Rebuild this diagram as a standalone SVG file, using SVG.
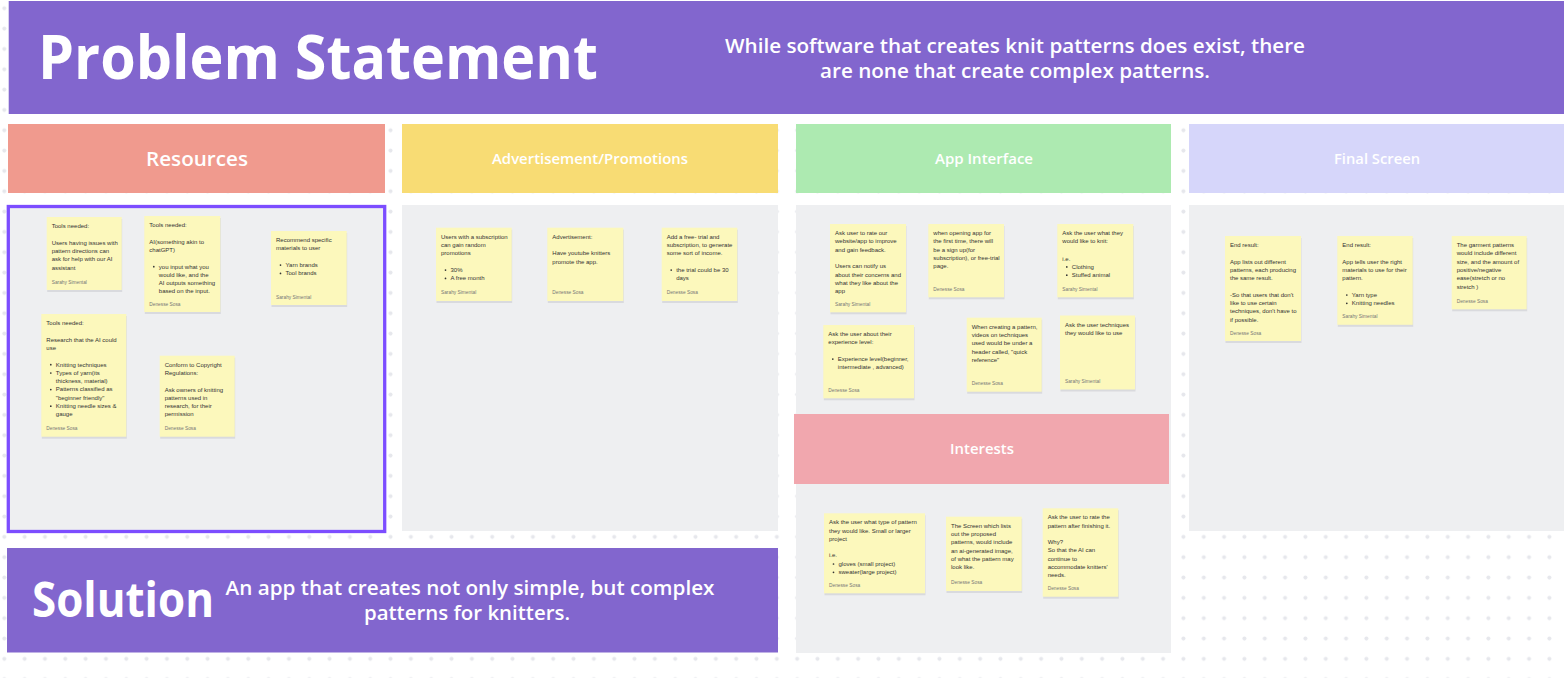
<svg xmlns="http://www.w3.org/2000/svg" width="1566" height="678" viewBox="0 0 1566 678">
<style>
.n{fill:#FCF8BC}
.sh{fill:#d9dade}
.t{font-family:"Liberation Sans",Arial,sans-serif;font-size:6px;fill:#333}
.a{font-family:"Liberation Sans",Arial,sans-serif;font-size:4.8px;fill:#777}
.b{fill:#333}
.hd{font-family:"Open Sans","DejaVu Sans",sans-serif;fill:#fff;font-weight:600;text-anchor:middle}
.big{font-family:"Open Sans","DejaVu Sans",sans-serif;fill:#fff;font-weight:700}
.sub{font-family:"Open Sans","DejaVu Sans",sans-serif;fill:#fff;font-weight:600}
.panel{fill:#EEEFF1}
</style>
<defs>
<pattern id="dots" x="0" y="0" width="20.33" height="20.33" patternUnits="userSpaceOnUse">
<circle cx="4.3" cy="8.3" r="2" fill="#e6e7ec"/>
</pattern>
</defs>
<rect width="1566" height="678" fill="#fff"/>
<rect width="1566" height="678" fill="url(#dots)"/>

<g id="problem-statement">
<rect x="8.7" y="1" width="1555.3" height="113" fill="#8266CE"/>
<text class="big" x="38" y="79" font-size="60" textLength="560" lengthAdjust="spacingAndGlyphs">Problem Statement</text>
<text class="sub" font-size="19" text-anchor="middle"><tspan x="1015" y="53" textLength="580" lengthAdjust="spacingAndGlyphs">While software that creates knit patterns does exist, there</tspan><tspan x="1015" y="78" textLength="390" lengthAdjust="spacingAndGlyphs">are none that create complex patterns.</tspan></text>
</g>

<g id="resources">
<rect x="8" y="124" width="377" height="69" fill="#F09A8E"/>
<text class="hd" x="197" y="166" font-size="19" font-weight="700" textLength="102" lengthAdjust="spacingAndGlyphs">Resources</text>
<rect class="panel" x="8.3" y="206.5" width="376.4" height="325" stroke="#7C4DFF" stroke-width="3.3"/>
</g>

<g id="advertisement">
<rect x="402" y="124" width="376" height="69" fill="#F8DC74"/>
<text class="hd" x="590" y="164" font-size="14" textLength="196" lengthAdjust="spacingAndGlyphs">Advertisement/Promotions</text>
<rect class="panel" x="402" y="205" width="376" height="326"/>
</g>

<g id="app-interface">
<rect x="796" y="124" width="375" height="69" fill="#ADEAB1"/>
<text class="hd" x="984" y="164" font-size="14" textLength="98" lengthAdjust="spacingAndGlyphs">App Interface</text>
<rect class="panel" x="796" y="205" width="375" height="448"/>
</g>

<g id="interests">
<rect x="794" y="414" width="375" height="70" fill="#F1A7AE"/>
<text class="hd" x="982" y="454" font-size="14" textLength="64" lengthAdjust="spacingAndGlyphs">Interests</text>
</g>

<g id="final-screen">
<rect x="1189" y="124" width="375" height="69" fill="#D6D6FA"/>
<text class="hd" x="1377" y="164" font-size="14" textLength="86" lengthAdjust="spacingAndGlyphs">Final Screen</text>
<rect class="panel" x="1189" y="205" width="375" height="326"/>
</g>

<g id="solution">
<rect x="7" y="548" width="771" height="104.5" fill="#8266CE"/>
<text class="big" x="32" y="617" font-size="48" textLength="182" lengthAdjust="spacingAndGlyphs">Solution</text>
<text class="sub" font-size="19" text-anchor="middle"><tspan x="470" y="595" textLength="489" lengthAdjust="spacingAndGlyphs">An app that creates not only simple, but complex</tspan><tspan x="467" y="620" textLength="206" lengthAdjust="spacingAndGlyphs">patterns for knitters.</tspan></text>
</g>

<!-- Resources notes -->
<g id="res-note-1" transform="translate(46.7,217)">
<rect class="sh" x="0.5" y="2" width="75" height="73"/>
<rect class="n" width="75" height="73"/>
<text class="t"><tspan x="5" y="11">Tools needed:</tspan><tspan x="5" y="27.6">Users having issues with</tspan><tspan x="5" y="35.9">pattern directions can</tspan><tspan x="5" y="44.2">ask for help with our AI</tspan><tspan x="5" y="52.5">assistant</tspan></text>
<text class="a" x="5" y="66.5">Sarahy Simental</text>
</g>

<g id="res-note-2" transform="translate(144.3,216)">
<rect class="sh" x="0.5" y="2" width="76" height="96"/>
<rect class="n" width="76" height="96"/>
<text class="t"><tspan x="5" y="11">Tools needed:</tspan><tspan x="5" y="27.6">AI(something akin to</tspan><tspan x="5" y="35.9">chatGPT)</tspan><tspan x="14.5" y="52.5">you input what you</tspan><tspan x="14.5" y="60.8">would like, and the</tspan><tspan x="14.5" y="69.1">AI outputs something</tspan><tspan x="14.5" y="77.4">based on the input.</tspan></text>
<circle class="b" cx="9.5" cy="50.7" r="0.85"/>
<text class="a" x="5" y="89.8">Denesse Sosa</text>
</g>

<g id="res-note-3" transform="translate(271,231)">
<rect class="sh" x="0.5" y="2" width="75.7" height="74"/>
<rect class="n" width="75.7" height="74"/>
<text class="t"><tspan x="5" y="11">Recommend specific</tspan><tspan x="5" y="19.3">materials to user</tspan><tspan x="14.5" y="35.9">Yarn brands</tspan><tspan x="14.5" y="44.2">Tool brands</tspan></text>
<circle class="b" cx="9.5" cy="34.1" r="0.85"/>
<circle class="b" cx="9.5" cy="42.4" r="0.85"/>
<text class="a" x="5" y="67.5">Sarahy Simental</text>
</g>

<g id="res-note-4" transform="translate(41.3,314)">
<rect class="sh" x="0.5" y="2" width="85" height="122.7"/>
<rect class="n" width="85" height="122.7"/>
<text class="t"><tspan x="5" y="11">Tools needed:</tspan><tspan x="5" y="27.6">Research that the AI could</tspan><tspan x="5" y="35.9">use</tspan><tspan x="14.5" y="52.5">Knitting techniques</tspan><tspan x="14.5" y="60.8">Types of yarn(its</tspan><tspan x="14.5" y="69.1">thickness, material)</tspan><tspan x="14.5" y="77.4">Patterns classified as</tspan><tspan x="14.5" y="85.7">"beginner friendly"</tspan><tspan x="14.5" y="94">Knitting needle sizes &amp;</tspan><tspan x="14.5" y="102.3">gauge</tspan></text>
<circle class="b" cx="9.5" cy="50.7" r="0.85"/>
<circle class="b" cx="9.5" cy="59" r="0.85"/>
<circle class="b" cx="9.5" cy="75.6" r="0.85"/>
<circle class="b" cx="9.5" cy="92.2" r="0.85"/>
<text class="a" x="5" y="116">Denesse Sosa</text>
</g>

<g id="res-note-5" transform="translate(159.7,355.7)">
<rect class="sh" x="0.5" y="2" width="75" height="81"/>
<rect class="n" width="75" height="81"/>
<text class="t"><tspan x="5" y="11">Conform to Copyright</tspan><tspan x="5" y="19.3">Regulations:</tspan><tspan x="5" y="35.9">Ask owners of knitting</tspan><tspan x="5" y="44.2">patterns used in</tspan><tspan x="5" y="52.5">research, for their</tspan><tspan x="5" y="60.8">permission</tspan></text>
<text class="a" x="5" y="74">Denesse Sosa</text>
</g>

<!-- Advertisement notes -->
<g id="ad-note-1" transform="translate(436,227.7)">
<rect class="sh" x="0.5" y="2" width="75.7" height="73.3"/>
<rect class="n" width="75.7" height="73.3"/>
<text class="t"><tspan x="5" y="11">Users with a subscription</tspan><tspan x="5" y="19.3">can gain random</tspan><tspan x="5" y="27.6">promotions</tspan><tspan x="14.5" y="44.2">30%</tspan><tspan x="14.5" y="52.5">A free month</tspan></text>
<circle class="b" cx="9.5" cy="42.4" r="0.85"/>
<circle class="b" cx="9.5" cy="50.7" r="0.85"/>
<text class="a" x="5" y="66.8">Sarahy Simental</text>
</g>

<g id="ad-note-2" transform="translate(547.3,227.7)">
<rect class="sh" x="0.5" y="2" width="76" height="73.3"/>
<rect class="n" width="76" height="73.3"/>
<text class="t"><tspan x="5" y="11">Advertisement:</tspan><tspan x="5" y="27.6">Have youtube knitters</tspan><tspan x="5" y="35.9">promote the app.</tspan></text>
<text class="a" x="5" y="66.8">Denesse Sosa</text>
</g>

<g id="ad-note-3" transform="translate(661.7,227.7)">
<rect class="sh" x="0.5" y="2" width="75.6" height="73.3"/>
<rect class="n" width="75.6" height="73.3"/>
<text class="t"><tspan x="5" y="11">Add a free- trial and</tspan><tspan x="5" y="19.3">subscription, to generate</tspan><tspan x="5" y="27.6">some sort of income.</tspan><tspan x="14.5" y="44.2">the trial could be 30</tspan><tspan x="14.5" y="52.5">days</tspan></text>
<circle class="b" cx="9.5" cy="42.4" r="0.85"/>
<text class="a" x="5" y="66.8">Denesse Sosa</text>
</g>

<!-- App Interface notes -->
<g id="app-note-1" transform="translate(830,224)">
<rect class="sh" x="0.5" y="2" width="76" height="88.3"/>
<rect class="n" width="76" height="88.3"/>
<text class="t"><tspan x="5" y="11">Ask user to rate our</tspan><tspan x="5" y="19.3">website/app to improve</tspan><tspan x="5" y="27.6">and gain feedback.</tspan><tspan x="5" y="44.2">Users can notify us</tspan><tspan x="5" y="52.5">about their concerns and</tspan><tspan x="5" y="60.8">what they like about the</tspan><tspan x="5" y="69.1">app</tspan></text>
<text class="a" x="5" y="81.8">Sarahy Simental</text>
</g>

<g id="app-note-2" transform="translate(928.3,224)">
<rect class="sh" x="0.5" y="2" width="75.7" height="73.3"/>
<rect class="n" width="75.7" height="73.3"/>
<text class="t"><tspan x="5" y="11">when opening app for</tspan><tspan x="5" y="19.3">the first time, there will</tspan><tspan x="5" y="27.6">be a sign up(for</tspan><tspan x="5" y="35.9">subscription), or free-trial</tspan><tspan x="5" y="44.2">page.</tspan></text>
<text class="a" x="5" y="66.8">Denesse Sosa</text>
</g>

<g id="app-note-3" transform="translate(1057.3,224)">
<rect class="sh" x="0.5" y="2" width="76" height="73.3"/>
<rect class="n" width="76" height="73.3"/>
<text class="t"><tspan x="5" y="11">Ask the user what they</tspan><tspan x="5" y="19.3">would like to knit:</tspan><tspan x="5" y="36.6">i.e.</tspan><tspan x="14.5" y="44.7">Clothing</tspan><tspan x="14.5" y="53">Stuffed animal</tspan></text>
<circle class="b" cx="9.5" cy="42.9" r="0.85"/>
<circle class="b" cx="9.5" cy="51.2" r="0.85"/>
<text class="a" x="5" y="66.8">Sarahy Simental</text>
</g>

<g id="app-note-4" transform="translate(823.3,325)">
<rect class="sh" x="0.5" y="2" width="90.7" height="73.3"/>
<rect class="n" width="90.7" height="73.3"/>
<text class="t"><tspan x="5" y="11">Ask the user about their</tspan><tspan x="5" y="19.3">experience level:</tspan><tspan x="14.5" y="35.9">Experience level(beginner,</tspan><tspan x="14.5" y="44.2">intermediate , advanced)</tspan></text>
<circle class="b" cx="9.5" cy="34.1" r="0.85"/>
<text class="a" x="5" y="66.8">Denesse Sosa</text>
</g>

<g id="app-note-5" transform="translate(966.7,317.7)">
<rect class="sh" x="0.5" y="2" width="75" height="74"/>
<rect class="n" width="75" height="74"/>
<text class="t"><tspan x="5" y="11">When creating a pattern,</tspan><tspan x="5" y="19.3">videos on techniques</tspan><tspan x="5" y="27.6">used would be under a</tspan><tspan x="5" y="35.9">header called, "quick</tspan><tspan x="5" y="44.2">reference"</tspan></text>
<text class="a" x="5" y="67.3">Denesse Sosa</text>
</g>

<g id="app-note-6" transform="translate(1060,315.5)">
<rect class="sh" x="0.5" y="2" width="75" height="74"/>
<rect class="n" width="75" height="74"/>
<text class="t"><tspan x="5" y="11">Ask the user techniques</tspan><tspan x="5" y="19.3">they would like to use</tspan></text>
<text class="a" x="5" y="67">Sarahy Simental</text>
</g>

<!-- Interests notes -->
<g id="int-note-1" transform="translate(824,513.3)">
<rect class="sh" x="0.5" y="2" width="101" height="80"/>
<rect class="n" width="101" height="80"/>
<text class="t"><tspan x="5" y="11">Ask the user what type of pattern</tspan><tspan x="5" y="19.3">they would like. Small or larger</tspan><tspan x="5" y="27.6">project</tspan><tspan x="5" y="44.2">i.e.</tspan><tspan x="14.5" y="52.5">gloves (small project)</tspan><tspan x="14.5" y="60.8">sweater(large project)</tspan></text>
<circle class="b" cx="9.5" cy="50.7" r="0.85"/>
<circle class="b" cx="9.5" cy="59" r="0.85"/>
<text class="a" x="5" y="73.5">Denesse Sosa</text>
</g>

<g id="int-note-2" transform="translate(946,516.7)">
<rect class="sh" x="0.5" y="2" width="75.7" height="74.3"/>
<rect class="n" width="75.7" height="74.3"/>
<text class="t"><tspan x="5" y="11">The Screen which lists</tspan><tspan x="5" y="19.3">out the proposed</tspan><tspan x="5" y="27.6">patterns, would include</tspan><tspan x="5" y="35.9">an ai-generated image,</tspan><tspan x="5" y="44.2">of what the pattern may</tspan><tspan x="5" y="52.5">look like.</tspan></text>
<text class="a" x="5" y="67.3">Denesse Sosa</text>
</g>

<g id="int-note-3" transform="translate(1042.7,508.3)">
<rect class="sh" x="0.5" y="2" width="75.6" height="88.4"/>
<rect class="n" width="75.6" height="88.4"/>
<text class="t"><tspan x="5" y="11">Ask the user to rate the</tspan><tspan x="5" y="19.3">pattern after finishing it.</tspan><tspan x="5" y="35.9">Why?</tspan><tspan x="5" y="44.2">So that the AI can</tspan><tspan x="5" y="52.5">continue to</tspan><tspan x="5" y="60.8">accommodate knitters'</tspan><tspan x="5" y="69.1">needs.</tspan></text>
<text class="a" x="5" y="81.7">Denesse Sosa</text>
</g>

<!-- Final Screen notes -->
<g id="final-note-1" transform="translate(1225,236)">
<rect class="sh" x="0.5" y="2" width="76" height="105"/>
<rect class="n" width="76" height="105"/>
<text class="t"><tspan x="5" y="11">End result:</tspan><tspan x="5" y="27.6">App lists out different</tspan><tspan x="5" y="35.9">patterns, each producing</tspan><tspan x="5" y="44.2">the same result.</tspan><tspan x="5" y="60.8">-So that users that don't</tspan><tspan x="5" y="69.1">like to use certain</tspan><tspan x="5" y="77.4">techniques, don't have to</tspan><tspan x="5" y="85.7">if possible.</tspan></text>
<text class="a" x="5" y="99">Denesse Sosa</text>
</g>

<g id="final-note-2" transform="translate(1337.3,236)">
<rect class="sh" x="0.5" y="2" width="75.4" height="88.8"/>
<rect class="n" width="75.4" height="88.8"/>
<text class="t"><tspan x="5" y="11">End result:</tspan><tspan x="5" y="27.6">App tells user the right</tspan><tspan x="5" y="35.9">materials to use for their</tspan><tspan x="5" y="44.2">pattern.</tspan><tspan x="14.5" y="60.8">Yarn type</tspan><tspan x="14.5" y="69.1">Knitting needles</tspan></text>
<circle class="b" cx="9.5" cy="59" r="0.85"/>
<circle class="b" cx="9.5" cy="67.3" r="0.85"/>
<text class="a" x="5" y="81.8">Sarahy Simental</text>
</g>

<g id="final-note-3" transform="translate(1451.7,236)">
<rect class="sh" x="0.5" y="2" width="75" height="73.3"/>
<rect class="n" width="75" height="73.3"/>
<text class="t"><tspan x="5" y="11">The garment patterns</tspan><tspan x="5" y="19.3">would include different</tspan><tspan x="5" y="27.6">size, and the amount of</tspan><tspan x="5" y="35.9">positive/negative</tspan><tspan x="5" y="44.2">ease(stretch or no</tspan><tspan x="5" y="52.5">stretch )</tspan></text>
<text class="a" x="5" y="66.8">Denesse Sosa</text>
</g>

<g id="connectors"></g>
</svg>
